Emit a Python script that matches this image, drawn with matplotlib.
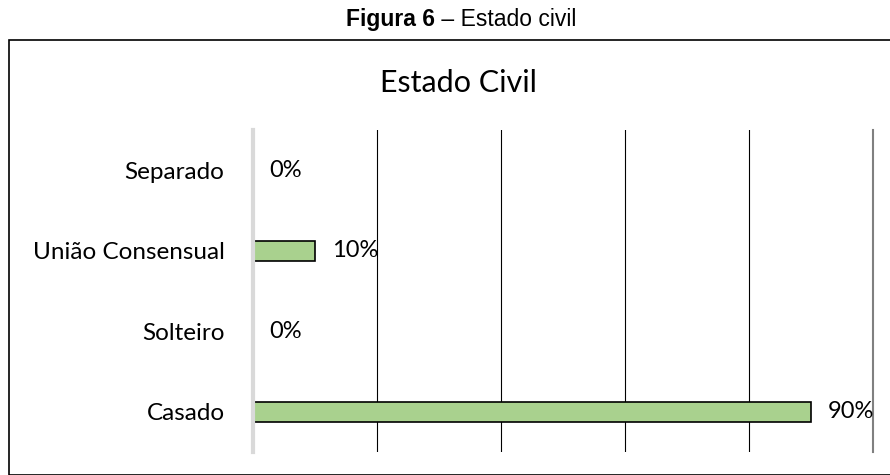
import matplotlib.pyplot as plt
from matplotlib.patches import Rectangle

categorias = ["Casado", "Solteiro", "União Consensual", "Separado"]
valores = [90, 0, 10, 0]
rotulos = ["90%", "0%", "10%", "0%"]

fig = plt.figure(figsize=(8.9, 4.75), dpi=100)

# caption above the frame
fig.text(0.489, 0.958, "Figura 6", ha="right", va="center", fontsize=16.5,
         fontweight="bold", family="Liberation Sans")
fig.text(0.489, 0.958, " – Estado civil", ha="left", va="center", fontsize=16.5,
         family="Liberation Sans")

# frame around the chart
fig.patches.append(Rectangle((9 / 890, 0.0), 1.0, 435 / 475, transform=fig.transFigure,
                             fill=False, edgecolor="black", linewidth=1.2))

ax = fig.add_axes([253 / 890, 23 / 475, 620 / 890, 322 / 475])
ax.barh(categorias, valores, height=0.25, color="#a9d18e", edgecolor="black", linewidth=1.2)

for i, (v, r) in enumerate(zip(valores, rotulos)):
    ax.annotate(r, (v, i), xytext=(12, 0), textcoords="offset points", ha="left",
                va="center", fontsize=17, family="Lato")

ax.set_xlim(0, 100)
ax.set_ylim(-0.5, 3.5)
ax.set_xticks([20, 40, 60, 80, 100])
ax.tick_params(axis="x", bottom=False, labelbottom=False)
ax.tick_params(axis="y", left=False, pad=17, labelsize=17.5)
for lab in ax.get_yticklabels():
    lab.set_family("Lato")
ax.grid(axis="x", color="black", linewidth=0.8)
last = ax.xaxis.get_gridlines()[-1]
last.set_color("#808080")
last.set_linewidth(1.5)
last.set_clip_on(False)
ax.set_axisbelow(True)
for s in ["top", "right", "bottom"]:
    ax.spines[s].set_visible(False)
ax.spines["left"].set_color("#d9d9d9")
ax.spines["left"].set_linewidth(3)

fig.text(458 / 890, 0.825, "Estado Civil", ha="center", va="center", fontsize=22, family="Lato")

fig.savefig("out.png", dpi=100)
